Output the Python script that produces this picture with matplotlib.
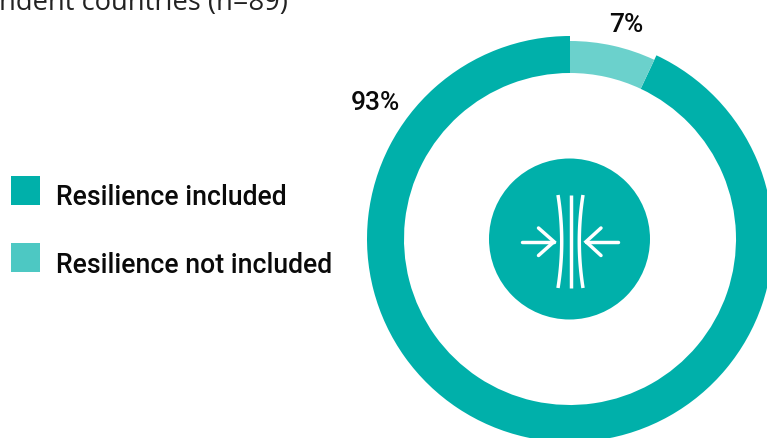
from matplotlib import pyplot as plt
from matplotlib.patches import Circle, Rectangle
import numpy as np

# -----------------------------------------------
# DATA
shares = [93, 7]
share_labels = ["93%", "7%"]
legend_labels = ["Resilience included", "Resilience not included"]
heading = "ndent countries (n=89)"

# -----------------------------------------------
# STYLE
DARK = "#00B0AA"
LIGHT = "#6BD1CC"
LIGHT_KEY = "#4DC8C3"
W, H = 767, 438

def py(y):
  ''' converts a distance from the top edge into an axes coordinate '''
  return H - y

fig = plt.figure(figsize=(W / 100, H / 100), dpi=100)
ax = fig.add_axes([0, 0, 1, 1])

# -----------------------------------------------
# RING
# dark part is slightly thicker than the light one, so each is drawn on its own
cx, cy = 570, py(239)
start = 90 - 360 * shares[1] / sum(shares)
ax.pie([shares[0], shares[1]], colors=[DARK, "none"], radius=203, center=(cx, cy),
       startangle=start, counterclock=False,
       wedgeprops=dict(width=37, linewidth=0))
ax.pie([shares[1], shares[0]], colors=[LIGHT, "none"], radius=198, center=(cx, cy),
       startangle=90, counterclock=False,
       wedgeprops=dict(width=32, linewidth=0))

# -----------------------------------------------
# CENTRE ICON
ax.add_patch(Circle((569.5, py(239)), 80.5, color=DARK, lw=0))
line = dict(color="white", lw=2.5, solid_capstyle="butt")
arrow = dict(color="white", lw=2.5, solid_capstyle="round", solid_joinstyle="miter")
t = np.linspace(-1, 1, 41)
ys = 241.5 + 46.5 * t
ax.plot([570.5, 570.5], [py(195), py(288)], **line)
ax.plot(561.7 - 3.7 * t ** 2, py(ys), **line)
ax.plot(579.3 + 3.7 * t ** 2, py(ys), **line)
ax.plot([522, 554], [py(241.7), py(241.7)], **arrow)
ax.plot([538.5, 554, 538.5], [py(228), py(241.7), py(255.5)], **arrow)
ax.plot([618, 586], [py(241.7), py(241.7)], **arrow)
ax.plot([601, 586, 601], [py(228), py(241.7), py(255.5)], **arrow)

# -----------------------------------------------
# TEXT AND LEGEND
font = dict(family="Roboto", fontweight="medium", color="#0a0a0a")
ax.text(375.5, py(110), share_labels[0], ha="center", va="baseline", fontsize=19, **font)
ax.text(626, py(32), share_labels[1], ha="center", va="baseline", fontsize=19, **font)

key_tops = [176, 243]
key_colors = [DARK, LIGHT_KEY]
text_baselines = [205, 273]
for top, color, label, base in zip(key_tops, key_colors, legend_labels, text_baselines):
  ax.add_patch(Rectangle((11, py(top + 29)), 29, 29, color=color, lw=0))
  ax.text(56, py(base), label, ha="left", va="baseline", fontsize=19.2, **font)

ax.text(-1, py(10.5), heading, ha="left", va="baseline", fontsize=19.7,
        family="Open Sans", color="#222222")

ax.set_xlim(0, W)
ax.set_ylim(0, H)
ax.set_aspect("auto")
ax.set_axis_off()

fig.savefig("out.png", dpi=100)
